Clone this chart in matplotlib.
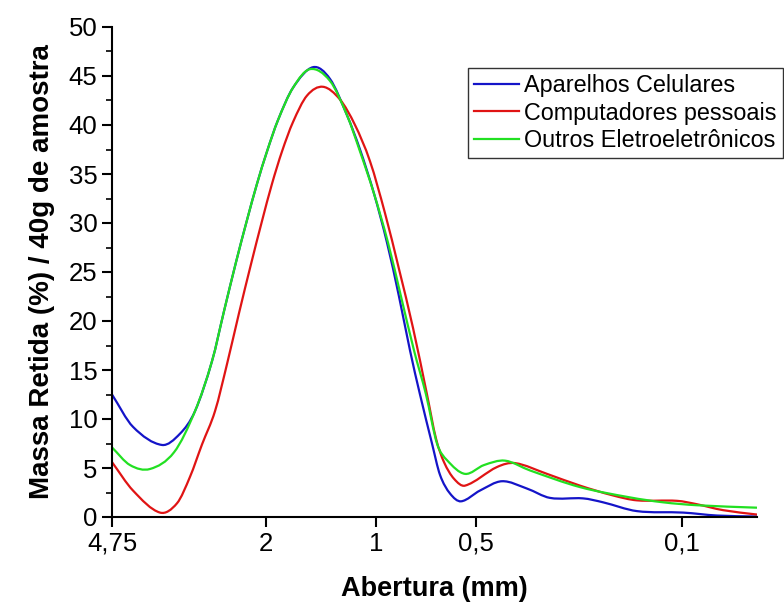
import numpy as np
import matplotlib
matplotlib.use("Agg")
import matplotlib.pyplot as plt
from matplotlib.path import Path
from matplotlib.patches import PathPatch
from matplotlib.lines import Line2D

plt.rcParams['font.family'] = ['Liberation Sans', 'DejaVu Sans']

# sieve aperture tick labels and their positions along the (categorical-like) x axis
tick_labels = ["4,75", "2", "1", "0,5", "0,1"]
tick_pos = [0, 154, 264, 364, 570]
x_end = 645

series_names = ["Aparelhos Celulares", "Computadores pessoais", "Outros Eletroeletrônicos"]
series_colors = ["#1414c8", "#e01414", "#22e022"]

x_cel = [0, 21, 50, 68, 83, 100, 112, 124, 135, 145, 155, 166, 181, 201, 218, 235, 248,
         262, 275, 287, 298, 308, 320, 328, 338, 349, 368, 390, 415, 438, 471, 491, 525,
         571, 605, 645]
y_cel = [12.5, 9.2, 7.35, 8.5, 10.8, 15.9, 21.0, 26.0, 30.3, 34.0, 37.3, 40.5, 43.8, 45.9,
         44.7, 41.0, 37.5, 33.0, 28.0, 22.5, 17.0, 12.5, 7.5, 4.3, 2.4, 1.6, 2.7, 3.65, 2.9,
         1.95, 1.9, 1.5, 0.6, 0.45, 0.15, 0.05]

x_comp = [0, 21, 48, 65, 78, 90, 103, 115, 127, 139, 150, 160, 170, 181, 195, 211, 228,
          243, 258, 273, 287, 301, 315, 324, 332, 342, 353, 385, 403, 435, 468, 501, 525,
          565, 585, 611, 645]
y_comp = [5.6, 2.7, 0.45, 1.4, 4.1, 7.4, 10.8, 15.6, 20.8, 25.8, 30.2, 34.0, 37.3, 40.3,
          43.0, 43.9, 42.6, 40.0, 36.3, 31.0, 25.3, 19.3, 12.5, 8.0, 5.6, 3.9, 3.2, 5.1, 5.5,
          4.4, 3.2, 2.2, 1.7, 1.65, 1.3, 0.7, 0.25]

x_out = [0, 18, 38, 62, 83, 100, 112, 124, 135, 145, 155, 166, 181, 198, 218, 235, 248,
         262, 276, 289, 302, 314, 325, 335, 353, 372, 393, 418, 468, 518, 551, 585, 645]
y_out = [7.1, 5.3, 4.9, 6.6, 10.8, 15.9, 21.0, 26.0, 30.3, 34.0, 37.3, 40.5, 43.8, 45.7,
         44.5, 41.0, 37.3, 33.0, 28.0, 22.5, 17.0, 12.5, 7.5, 5.8, 4.4, 5.3, 5.75, 4.75,
         3.05, 2.0, 1.5, 1.2, 0.95]


def smooth_path(xs, ys):
    """Cubic Hermite Bezier path through the given points (drawn by matplotlib)."""
    x = np.asarray(xs, float)
    y = np.asarray(ys, float)
    n = len(x)
    m = np.zeros(n)
    m[0] = (y[1] - y[0]) / (x[1] - x[0])
    m[-1] = (y[-1] - y[-2]) / (x[-1] - x[-2])
    for i in range(1, n - 1):
        m[i] = (y[i + 1] - y[i - 1]) / (x[i + 1] - x[i - 1])
    verts = [(x[0], y[0])]
    codes = [Path.MOVETO]
    for i in range(n - 1):
        h = x[i + 1] - x[i]
        verts += [(x[i] + h / 3, y[i] + m[i] * h / 3),
                  (x[i + 1] - h / 3, y[i + 1] - m[i + 1] * h / 3),
                  (x[i + 1], y[i + 1])]
        codes += [Path.CURVE4] * 3
    return Path(verts, codes)


fig = plt.figure(figsize=(7.84, 6.05), dpi=100)
ax = fig.add_axes([112 / 784, 1 - 517 / 605, (757 - 112) / 784, (517 - 27) / 605])

data = [(x_cel, y_cel), (x_comp, y_comp), (x_out, y_out)]
handles = []
for (xs, ys), c, name in zip(data, series_colors, series_names):
    ax.add_patch(PathPatch(smooth_path(xs, ys), facecolor='none', edgecolor=c, lw=1.6))
    handles.append(Line2D([], [], color=c, lw=1.6, label=name))

ax.set_xlim(0, x_end)
ax.set_ylim(0, 50)
ax.set_xticks(tick_pos)
ax.set_xticklabels(tick_labels)
ax.set_yticks(np.arange(0, 51, 5))
ax.set_yticks(np.arange(0, 50, 2.5), minor=True)

for s in ['top', 'right']:
    ax.spines[s].set_visible(False)
for s in ['left', 'bottom']:
    ax.spines[s].set_linewidth(1.5)

ax.tick_params(axis='both', which='major', direction='out', length=7.5, width=1.5,
               labelsize=18.5, pad=3)
ax.tick_params(axis='y', which='minor', direction='out', length=4, width=1.2)
ax.tick_params(axis='x', which='minor', bottom=False)

ax.set_xlabel("Abertura (mm)", fontsize=19.5, fontweight='bold', labelpad=15)
ax.set_ylabel("Massa Retida (%) / 40g de amostra", fontsize=20, fontweight='bold', labelpad=10)

leg = fig.legend(handles=handles, loc='upper left', bbox_to_anchor=(468 / 784, 1 - 68 / 605),
                 fontsize=16.8, frameon=True, fancybox=False, framealpha=1,
                 edgecolor='#333333', handlelength=1.95, handletextpad=0.22,
                 labelspacing=0.2, borderpad=0.25, borderaxespad=0)
leg.get_frame().set_linewidth(1.0)

fig.savefig("out.png", dpi=100)
